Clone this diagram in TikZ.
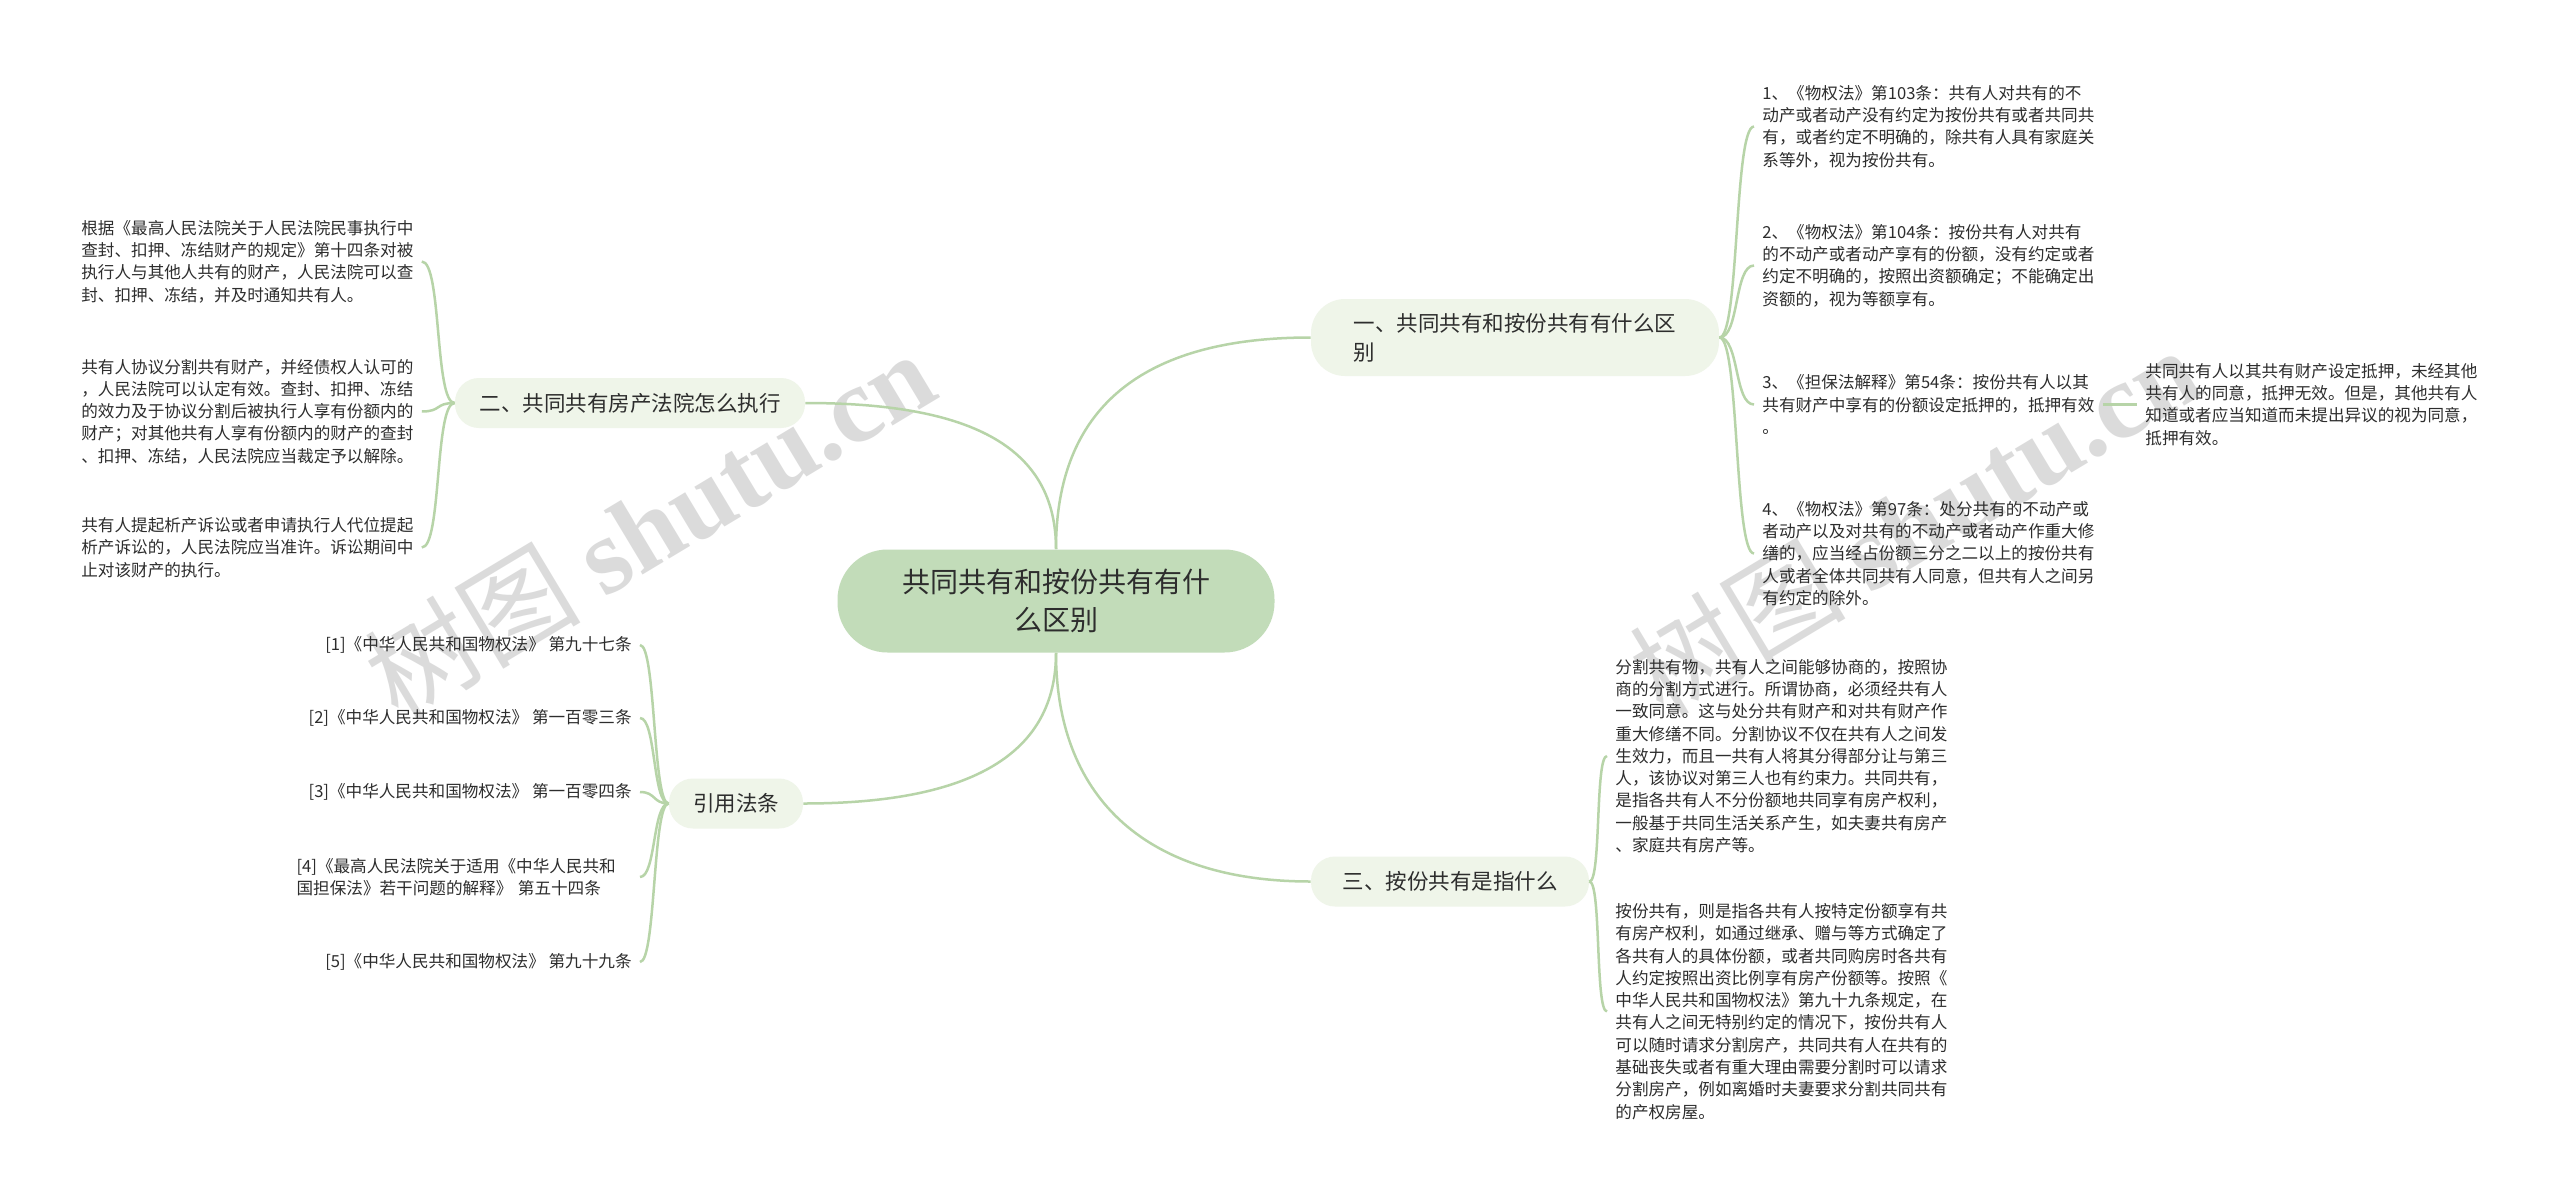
\documentclass[tikz,border=0pt]{standalone}
\usepackage{fontspec}
\setmainfont{Noto Sans CJK SC}
\newfontfamily\wmserif{Liberation Serif}
\definecolor{rootfill}{RGB}{194,220,185}
\definecolor{topicfill}{RGB}{239,245,233}
\definecolor{linec}{RGB}{183,212,168}
\definecolor{txt}{RGB}{45,45,45}
\definecolor{wmc}{RGB}{208,208,208}
\begin{document}
\begin{tikzpicture}[x=0.5pt,y=-0.5pt,
  root/.style={fill=rootfill, rounded corners=25pt, minimum width=218.5pt, minimum height=51.5pt, align=center, font=\fontsize{14}{19}\selectfont, text=txt, inner sep=0pt},
  topic/.style={fill=topicfill, rounded corners=12pt, minimum height=25pt, inner xsep=10pt, inner ysep=0pt, font=\fontsize{10.75}{14.5}\selectfont, text=txt},
  leaf/.style={align=left, font=\fontsize{8.3}{11.15}\selectfont, inner xsep=4pt, inner ysep=0pt, text=txt},
  leafr/.style={align=right, font=\fontsize{8.3}{11.15}\selectfont, inner xsep=4pt, inner ysep=0pt, text=txt},
  conn/.style={draw=linec, line width=1.25pt},
  wm/.style={text=wmc, opacity=0.75, font=\fontsize{54}{56}\selectfont, inner sep=0pt}
]
\fill[white] (0,0) rectangle (2560,1199);
\useasboundingbox (0,0) rectangle (2560,1199);

% watermarks
\node[wm, rotate=31] (wmA) at (649,524) {树图 {\wmserif\bfseries shutu.cn}};
\node[wm, rotate=31] (wmB) at (1914,520) {树图 {\wmserif\bfseries shutu.cn}};

% main nodes
\node[root] (c) at (1056,601) {共同共有和按份共有有什\\么区别};
\node[topic, minimum width=204pt, minimum height=38.5pt, rounded corners=17pt, align=left] (n1) at (1515,337.5) {一、共同共有和按份共有有什么区\\别};
\node[topic, minimum width=175pt] (n2) at (630,403) {二、共同共有房产法院怎么执行};
\node[topic, minimum width=139pt] (n3) at (1450,881.5) {三、按份共有是指什么};
\node[topic, minimum width=67pt] (n4) at (736,803.5) {引用法条};

% right leaves of n1
\node[leaf, anchor=west] (r1) at (1754,126.5) {1、《物权法》第103条：共有人对共有的不\\动产或者动产没有约定为按份共有或者共同共\\有，或者约定不明确的，除共有人具有家庭关\\系等外，视为按份共有。};
\node[leaf, anchor=west] (r2) at (1754,265.5) {2、《物权法》第104条：按份共有人对共有\\的不动产或者动产享有的份额，没有约定或者\\约定不明确的，按照出资额确定；不能确定出\\资额的，视为等额享有。};
\node[leaf, anchor=west] (r3) at (1754,404.5) {3、《担保法解释》第54条：按份共有人以其\\共有财产中享有的份额设定抵押的，抵押有效\\。};
\node[leaf, anchor=west] (r3c) at (2137,404.5) {共同共有人以其共有财产设定抵押，未经其他\\共有人的同意，抵押无效。但是，其他共有人\\知道或者应当知道而未提出异议的视为同意，\\抵押有效。};
\node[leaf, anchor=west] (r4) at (1754,553.5) {4、《物权法》第97条：处分共有的不动产或\\者动产以及对共有的不动产或者动产作重大修\\缮的，应当经占份额三分之二以上的按份共有\\人或者全体共同共有人同意，但共有人之间另\\有约定的除外。};

% leaves of n3
\node[leaf, anchor=west] (a1) at (1607,756) {分割共有物，共有人之间能够协商的，按照协\\商的分割方式进行。所谓协商，必须经共有人\\一致同意。这与处分共有财产和对共有财产作\\重大修缮不同。分割协议不仅在共有人之间发\\生效力，而且一共有人将其分得部分让与第三\\人，该协议对第三人也有约束力。共同共有，\\是指各共有人不分份额地共同享有房产权利，\\一般基于共同生活关系产生，如夫妻共有房产\\、家庭共有房产等。};
\node[leaf, anchor=west] (a2) at (1607,1011.5) {按份共有，则是指各共有人按特定份额享有共\\有房产权利，如通过继承、赠与等方式确定了\\各共有人的具体份额，或者共同购房时各共有\\人约定按照出资比例享有房产份额等。按照《\\中华人民共和国物权法》第九十九条规定，在\\共有人之间无特别约定的情况下，按份共有人\\可以随时请求分割房产，共同共有人在共有的\\基础丧失或者有重大理由需要分割时可以请求\\分割房产，例如离婚时夫妻要求分割共同共有\\的产权房屋。};

% leaves of n2
\node[leaf, anchor=west] (l1) at (73,261.5) {根据《最高人民法院关于人民法院民事执行中\\查封、扣押、冻结财产的规定》第十四条对被\\执行人与其他人共有的财产，人民法院可以查\\封、扣押、冻结，并及时通知共有人。};
\node[leaf, anchor=west] (l2) at (73,411.5) {共有人协议分割共有财产，并经债权人认可的\\，人民法院可以认定有效。查封、扣押、冻结\\的效力及于协议分割后被执行人享有份额内的\\财产；对其他共有人享有份额内的财产的查封\\、扣押、冻结，人民法院应当裁定予以解除。};
\node[leaf, anchor=west] (l3) at (73,547.5) {共有人提起析产诉讼或者申请执行人代位提起\\析产诉讼的，人民法院应当准许。诉讼期间中\\止对该财产的执行。};

% references
\node[leafr, anchor=east] (f1) at (640,645) {[1]《中华人民共和国物权法》 第九十七条};
\node[leafr, anchor=east] (f2) at (640,718) {[2]《中华人民共和国物权法》 第一百零三条};
\node[leafr, anchor=east] (f3) at (640,792) {[3]《中华人民共和国物权法》 第一百零四条};
\node[leaf, anchor=east, text width=167.5pt] (f4) at (640,877) {[4]《最高人民法院关于适用《中华人民共和\\国担保法》若干问题的解释》 第五十四条};
\node[leafr, anchor=east] (f5) at (640,962) {[5]《中华人民共和国物权法》 第九十九条};

% center connectors
\draw[conn] (c.north) .. controls +(0,-140) and +(-170,0) .. (n1.west);
\draw[conn] (c.north) .. controls +(0,-100) and +(170,0) .. (n2.east);
\draw[conn] (c.south) .. controls +(0,140) and +(-170,0) .. (n3.west);
\draw[conn] (c.south) .. controls +(0,100) and +(170,0) .. (n4.east);

% n1 leaves
\foreach \t in {r1,r2,r3,r4}{
  \draw[conn] (n1.east) .. controls +(20,0) and +(-20,0) .. (\t.west);
}
\draw[conn] (r3.east) -- (r3c.west);

% n3 leaves
\foreach \t in {a1,a2}{
  \draw[conn] (n3.east) .. controls +(12,0) and +(-12,0) .. (\t.west);
}

% n2 leaves
\foreach \t in {l1,l2,l3}{
  \draw[conn] (n2.west) .. controls +(-20,0) and +(20,0) .. (\t.east);
}

% n4 leaves
\foreach \t in {f1,f2,f3,f4,f5}{
  \draw[conn] (n4.west) .. controls +(-16,0) and +(16,0) .. (\t.east);
}
\end{tikzpicture}
\end{document}
